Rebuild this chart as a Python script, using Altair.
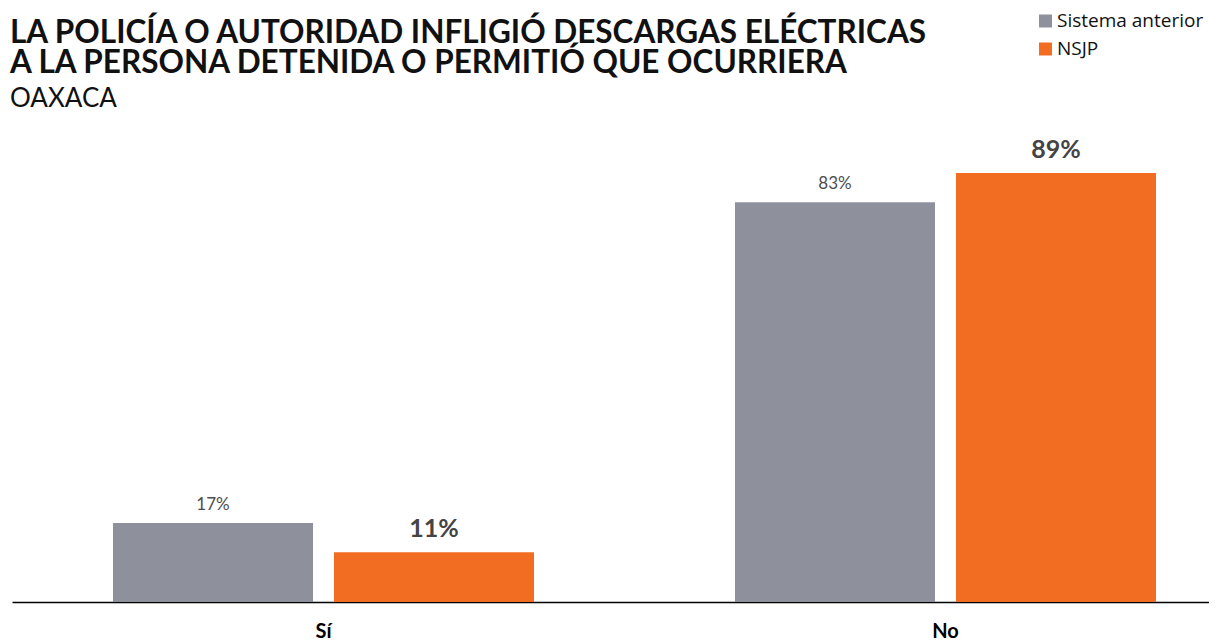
import altair as alt
import pandas as pd

categories = ["Sí", "No"]
series = ["Sistema anterior", "NSJP"]
sistema_anterior = [17, 83]
nsjp = [11, 89]
colors = ["#8E919C", "#F26C22"]

title_lines = ["LA POLICÍA O AUTORIDAD INFLIGIÓ DESCARGAS ELÉCTRICAS",
               "A LA PERSONA DETENIDA O PERMITIÓ QUE OCURRIERA"]
subtitle = "OAXACA"

rows = []
for i, c in enumerate(categories):
    rows.append({"cat": c, "serie": series[0], "valor": sistema_anterior[i]})
    rows.append({"cat": c, "serie": series[1], "valor": nsjp[i]})
df = pd.DataFrame(rows)
df["etiqueta"] = df["valor"].astype(int).astype(str) + "%"

x_enc = alt.X("cat:N", sort=categories, title=None,
              scale=alt.Scale(paddingInner=0.32315, paddingOuter=0.123794, align=0.6558, round=False),
              axis=alt.Axis(labelAngle=0, ticks=False, domain=True, domainColor="#000000", domainWidth=1.6,
                            labelFont="Lato", labelFontWeight="bold", labelFontSize=20, labelColor="#000000",
                            labelPadding=19, grid=False))
xo_enc = alt.XOffset("serie:N", sort=series, scale=alt.Scale(paddingInner=0.095, paddingOuter=0, round=False))
y_scale = alt.Scale(domain=[0.75, 100], zero=False, nice=False)

base = alt.Chart(df)

bars = base.mark_bar(clip=True).encode(
    x=x_enc,
    xOffset=xo_enc,
    y=alt.Y("valor:Q", scale=y_scale, axis=None),
    y2=alt.datum(0),
    color=alt.Color("serie:N", sort=series, scale=alt.Scale(domain=series, range=colors),
                    legend=alt.Legend(title=None, orient="none", legendX=1024, legendY=-108,
                                      symbolType="square", symbolSize=169, symbolStrokeWidth=0,
                                      labelFont="Open Sans", labelFontSize=19, labelColor="#111111",
                                      labelOffset=2, rowPadding=8, padding=0)),
)

lab_gray = base.transform_filter(alt.datum.serie == series[0]).mark_text(
    font="Lato", fontSize=17, color="#4d4d4d", baseline="alphabetic", dy=-13
).encode(x=x_enc, xOffset=xo_enc, y=alt.Y("valor:Q", scale=y_scale), text="etiqueta:N")

lab_orange = base.transform_filter(alt.datum.serie == series[1]).mark_text(
    font="Lato", fontSize=25, fontWeight="bold", color="#444444", baseline="alphabetic", dy=-15
).encode(x=x_enc, xOffset=xo_enc, y=alt.Y("valor:Q", scale=y_scale), text="etiqueta:N")

chart = alt.layer(bars, lab_gray, lab_orange).properties(
    width=1197, height=482.5,
    autosize=alt.AutoSizeParams(type="none"),
    padding={"left": 4, "top": 111.5, "right": 0, "bottom": 45},
    title=alt.TitleParams(text=title_lines, subtitle=subtitle, anchor="start", frame="group",
                          orient="top", offset=-100, dx=-2,
                          font="Lato", fontSize=31.5, fontWeight="bold", color="#111111", lineHeight=30,
                          subtitleFont="Lato", subtitleFontSize=26, subtitleColor="#111111",
                          subtitlePadding=6),
).configure_view(stroke=None)

chart.save("out.html", embed_options={"renderer": "svg", "actions": False})
